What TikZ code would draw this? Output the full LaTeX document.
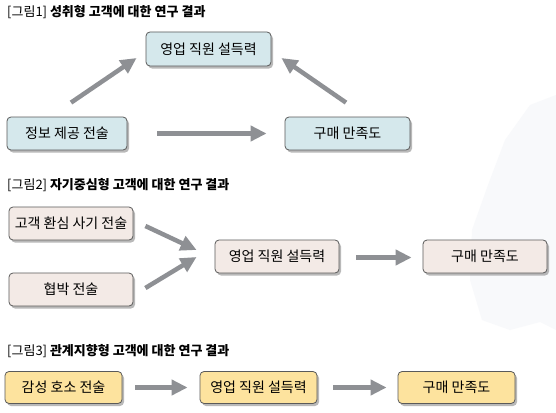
\documentclass[tikz,border=0pt]{standalone}
\usepackage{fontspec}
\setmainfont{Noto Sans CJK KR}
\usetikzlibrary{arrows.meta,shadows}
\definecolor{bluebox}{HTML}{D5E8EC}
\definecolor{pinkbox}{HTML}{F3EAE6}
\definecolor{yellowbox}{HTML}{FDE39E}
\definecolor{boxline}{HTML}{5A5A5A}
\definecolor{arrowgray}{HTML}{8E9094}
\definecolor{mapgray}{HTML}{F8F9FB}
\tikzset{
  boxbase/.style={draw=boxline, line width=0.8pt, rounded corners=4pt, inner sep=0pt,
    font=\fontsize{14}{16}\selectfont,
    drop shadow={shadow xshift=2pt, shadow yshift=-2.5pt, fill=black!50, opacity=0.55}},
  bluenode/.style={boxbase, fill=bluebox, minimum width=124pt, minimum height=33pt},
  pinknode/.style={boxbase, fill=pinkbox, minimum width=124pt, minimum height=33pt},
  yellownode/.style={boxbase, fill=yellowbox, minimum width=117pt, minimum height=32pt},
  titletext/.style={anchor=west, inner sep=0pt, font=\fontsize{13}{15}\selectfont},
  garrow/.style={draw=arrowgray, line width=4.5pt, -{Triangle[length=16pt,width=15pt]}},
}
\begin{document}
\begin{tikzpicture}[x=1pt,y=-1pt]
\useasboundingbox (0,0) rectangle (556,412);
\fill[white] (0,0) rectangle (556,412);
% faint background map
\fill[mapgray] (556,95) -- (530,105) -- (505,140) -- (488,185) -- (472,230) -- (470,280) -- (482,320) -- (510,330) -- (540,322) -- (556,330) -- cycle;

% Figure 1
\node[titletext] (t1) at (7,12) {[그림1] \textbf{성취형 고객에 대한 연구 결과}};
\node[bluenode, minimum width=125pt, minimum height=34pt] (pers1) at (208.5,49) {영업 직원 설득력};
\node[bluenode, minimum width=120pt] (info) at (67,133.5) {정보 제공 전술};
\node[bluenode, minimum width=125pt] (sat1) at (347.5,133.5) {구매 만족도};
\draw[garrow] ([shift={(4,-14)}]info.north) -- ([shift={(-9,9)}]pers1.west);
\draw[garrow] ([shift={(-1.5,-14)}]sat1.north) -- ([shift={(10,9)}]pers1.east);
\draw[garrow] ([shift={(30,0)}]info.east) -- ([shift={(-18,0)}]sat1.west);

% Figure 2
\node[titletext] (t2) at (7,185) {[그림2] \textbf{자기중심형 고객에 대한 연구 결과}};
\node[pinknode] (ing) at (71,223.5) {고객 환심 사기 전술};
\node[pinknode] (threat) at (71,289.5) {협박 전술};
\node[pinknode] (pers2) at (277,256.5) {영업 직원 설득력};
\node[pinknode] (sat2) at (485,256.5) {구매 만족도};
\draw[garrow] ([shift={(12,2.5)}]ing.east) -- ([shift={(-18,-6.5)}]pers2.west);
\draw[garrow] ([shift={(12,-1.5)}]threat.east) -- ([shift={(-18,0.5)}]pers2.west);
\draw[garrow] ([shift={(17,1)}]pers2.east) -- ([shift={(-11,1)}]sat2.west);

% Figure 3
\node[titletext] (t3) at (7,351) {[그림3] \textbf{관계지향형 고객에 대한 연구 결과}};
\node[yellownode] (emo) at (63.5,387.5) {감성 호소 전술};
\node[yellownode] (pers3) at (258.5,387.5) {영업 직원 설득력};
\node[yellownode] (sat3) at (456.5,387.5) {구매 만족도};
\draw[garrow] ([shift={(13,0)}]emo.east) -- ([shift={(-12,0)}]pers3.west);
\draw[garrow] ([shift={(16,0)}]pers3.east) -- ([shift={(-11,0)}]sat3.west);
\end{tikzpicture}
\end{document}
